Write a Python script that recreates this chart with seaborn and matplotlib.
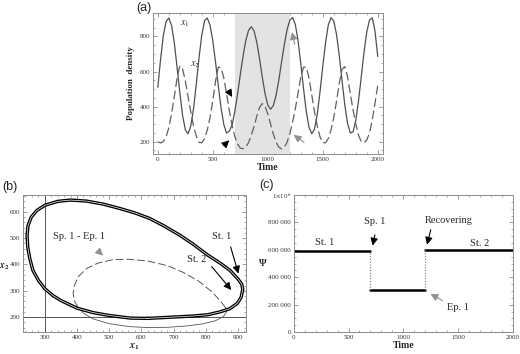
import numpy as np
import pandas as pd
import matplotlib
matplotlib.use("Agg")
import matplotlib.pyplot as plt
from matplotlib.ticker import AutoMinorLocator, MultipleLocator, FuncFormatter
import seaborn as sns

sns.set_style("ticks")
plt.rcParams['font.family'] = ['Liberation Serif', 'DejaVu Serif']
plt.rcParams['mathtext.fontset'] = 'stix'

# (a) population densities, read every 25 time units
time = np.arange(0, 2001, 25)
x1 = [510, 670, 805, 885, 905, 862, 762, 624, 480, 350,
      268, 245, 290, 390, 530, 680, 810, 890, 905, 864,
      774, 652, 517, 392, 298, 249, 260, 295, 372, 472,
      583, 688, 776, 835, 855, 832, 767, 673, 567, 474,
      409, 385, 405, 464, 551, 653, 753, 838, 892, 908,
      869, 776, 645, 502, 372, 281, 246, 272, 357, 485,
      630, 764, 865, 907, 888, 811, 690, 548, 411, 305,
      250, 256, 321, 433, 571, 710, 825, 894, 906, 830,
      685]
x2 = [200, 193, 201, 227, 280, 360, 457, 563, 632, 616,
      546, 457, 369, 289, 232, 196, 194, 218, 267, 338,
      435, 546, 625, 622, 563, 473, 378, 292, 230, 187,
      164, 160, 169, 195, 236, 288, 345, 396, 417, 402,
      358, 301, 244, 198, 169, 159, 168, 197, 245, 311,
      387, 477, 568, 625, 625, 563, 466, 369, 289, 227,
      194, 194, 218, 267, 338, 431, 532, 612, 628, 572,
      475, 382, 302, 236, 201, 193, 210, 249, 325, 420,
      521]
epi_start, epi_end = 700, 1200

# (b) phase plane
cycle_x1 = [620, 700, 760, 807, 845, 875, 898, 910, 915, 912,
            900, 875, 845, 807, 760, 720, 670, 626, 580, 533,
            480, 430, 380, 340, 300, 275, 258, 248, 245, 247,
            253, 263, 280, 300, 325, 350, 400, 450, 500, 567, 620]
cycle_x2 = [195, 200, 204, 209, 220, 232, 252, 275, 305, 325,
            345, 378, 405, 435, 478, 511, 547, 575, 596, 613,
            630, 641, 645, 640, 625, 605, 580, 548, 510, 467,
            425, 378, 340, 308, 282, 263, 234, 217, 206, 196, 195]
epi_x1 = [862, 845, 820, 780, 730, 680, 620, 560, 510, 465, 430, 405, 392, 388, 392, 402]
epi_x2 = [235, 262, 295, 335, 370, 396, 413, 420, 418, 405, 385, 355, 320, 290, 262, 240]
low_x1 = [402, 420, 450, 500, 560, 620, 680, 740, 790, 830, 855, 865, 862]
low_x2 = [240, 215, 193, 175, 164, 160, 161, 166, 174, 186, 202, 220, 235]
x1_line, x2_line = 300, 200

# (c) Psi
psi_t0 = [0, 700, 1200]
psi_t1 = [700, 1200, 2000]
psi_val = [592000, 306000, 600000]
psi_name = ["St. 1", "Ep. 1", "St. 2"]

frame_col = "#8c8c8c"


def style_axes(ax):
    for s in ax.spines.values():
        s.set_color(frame_col)
        s.set_linewidth(0.7)
        s.set_visible(True)
    ax.tick_params(which="both", direction="in", top=True, right=True,
                   color=frame_col, labelsize=5, labelcolor="#333333", pad=2)
    ax.tick_params(which="major", length=3, width=0.6)
    ax.tick_params(which="minor", length=1.5, width=0.5)


fig = plt.figure(figsize=(5.2, 3.54), dpi=100)

# ---- (a)
ax = fig.add_axes([0.294, 0.565, 0.442, 0.398])
ax.axvspan(epi_start, epi_end, color="#e3e3e3", lw=0)
sns.lineplot(x=time, y=x1, ax=ax, color="#505050", lw=0.9)
sns.lineplot(x=time, y=x2, ax=ax, color="#606060", lw=0.9, dashes=False, linestyle=(0, (7, 3)))
ax.set_xlim(-45, 2045)
ax.set_ylim(130, 933)
ax.xaxis.set_major_locator(MultipleLocator(500))
ax.xaxis.set_minor_locator(AutoMinorLocator(5))
ax.yaxis.set_major_locator(MultipleLocator(200))
ax.yaxis.set_minor_locator(AutoMinorLocator(4))
style_axes(ax)
ax.set_xlabel("Time", fontsize=7, fontweight="bold", labelpad=1)
ax.set_ylabel("Population  density", fontsize=6.5, fontweight="bold", labelpad=3)
ax.text(205, 860, "$x_1$", fontsize=7.5, color="#333333")
ax.text(290, 630, "$x_2$", fontsize=7.5, color="#333333")
blk = dict(arrowstyle="-|>", color="black", lw=0.8, mutation_scale=11)
gry = dict(arrowstyle="-|>", color="#909090", lw=0.8, mutation_scale=11)
ax.annotate("", xy=(689, 441), xytext=(635, 498), arrowprops=blk)
ax.annotate("", xy=(668, 219), xytext=(583, 168), arrowprops=blk)
ax.annotate("", xy=(1214, 840), xytext=(1250, 741), arrowprops=gry)
ax.annotate("", xy=(1214, 248), xytext=(1350, 187), arrowprops=gry)
fig.text(0.262, 0.978, "(a)", fontsize=9, family="Liberation Sans", va="center")

# ---- (b)
bx = fig.add_axes([0.044, 0.062, 0.429, 0.387])
bx.axvline(x1_line, color="#555555", lw=0.7)
bx.axhline(x2_line, color="#555555", lw=0.7)
sns.lineplot(x=low_x1, y=low_x2, ax=bx, sort=False, estimator=None, color="#555555", lw=0.6)
sns.lineplot(x=epi_x1, y=epi_x2, ax=bx, sort=False, estimator=None, color="#555555", lw=0.7,
             linestyle=(0, (8, 3)))
sns.lineplot(x=cycle_x1, y=cycle_x2, ax=bx, sort=False, estimator=None, color="black", lw=2.4)
sns.lineplot(x=cycle_x1, y=cycle_x2, ax=bx, sort=False, estimator=None, color="white", lw=0.5)
bx.set_xlim(232, 925)
bx.set_ylim(143, 664)
bx.xaxis.set_major_locator(MultipleLocator(100))
bx.xaxis.set_minor_locator(AutoMinorLocator(5))
bx.yaxis.set_major_locator(MultipleLocator(100))
bx.yaxis.set_minor_locator(AutoMinorLocator(5))
style_axes(bx)
bx.set_xlabel(r"$\mathbfit{x}_\mathbf{1}$", fontsize=7.5, labelpad=1)
bx.set_ylabel(r"$\mathbfit{x}_\mathbf{2}$", fontsize=7, rotation=0, va="center", ha="center")
bx.yaxis.set_label_coords(-0.082, 0.48)
bx.text(406, 505, "Sp. 1 - Ep. 1", fontsize=7.5, ha="center", va="center")
bx.annotate("", xy=(487, 426), xytext=(461, 457), arrowprops=gry)
bx.text(849, 505, "St. 1", fontsize=7.5, ha="center", va="center")
bx.annotate("", xy=(904, 355), xytext=(875, 477), arrowprops=blk)
bx.text(771, 419, "St. 2", fontsize=7.5, ha="center", va="center")
bx.annotate("", xy=(885, 295), xytext=(813, 400), arrowprops=blk)
fig.text(0.004, 0.473, "(b)", fontsize=9, family="Liberation Sans", va="center")

# ---- (c)
cx = fig.add_axes([0.565, 0.062, 0.421, 0.387])
psi = pd.DataFrame({"time": psi_t0 + psi_t1, "psi": psi_val + psi_val, "seg": psi_name + psi_name})
sns.lineplot(data=psi, x="time", y="psi", units="seg", estimator=None, ax=cx, color="black", lw=1.8)
cx.vlines(psi_t1[:2], psi_val[1], [psi_val[0], psi_val[2]], color="#777777", lw=0.8,
          linestyles=(0, (1, 1.5)))
cx.set_xlim(0, 2000)
cx.set_ylim(0, 1000000)
cx.xaxis.set_major_locator(MultipleLocator(500))
cx.xaxis.set_minor_locator(AutoMinorLocator(5))
cx.yaxis.set_major_locator(MultipleLocator(200000))
cx.yaxis.set_minor_locator(AutoMinorLocator(4))
cx.yaxis.set_major_formatter(FuncFormatter(
    lambda v, p: r"1$\times$10$^6$" if v >= 1e6 else f"{int(v):,}".replace(",", " ")))
style_axes(cx)
cx.set_xlabel("Time", fontsize=7, fontweight="bold", labelpad=1)
cx.set_ylabel("Ψ", fontsize=7, fontweight="bold", rotation=0, labelpad=4, va="center")
cx.text(283, 657000, "St. 1", fontsize=7.5, ha="center", va="center")
cx.text(1699, 650000, "St. 2", fontsize=7.5, ha="center", va="center")
cx.text(735, 805000, "Sp. 1", fontsize=7.5, ha="center", va="center")
cx.annotate("", xy=(715, 611000), xytext=(746, 729000), arrowprops=blk)
cx.text(1416, 815000, "Recovering", fontsize=7.5, ha="center", va="center")
cx.annotate("", xy=(1211, 618000), xytext=(1257, 766000), arrowprops=blk)
cx.text(1500, 182000, "Ep. 1", fontsize=7.5, ha="center", va="center")
cx.annotate("", xy=(1227, 289000), xytext=(1379, 220000), arrowprops=gry)
fig.text(0.498, 0.478, "(c)", fontsize=9, family="Liberation Sans", va="center")

fig.savefig("out.png", dpi=100)
